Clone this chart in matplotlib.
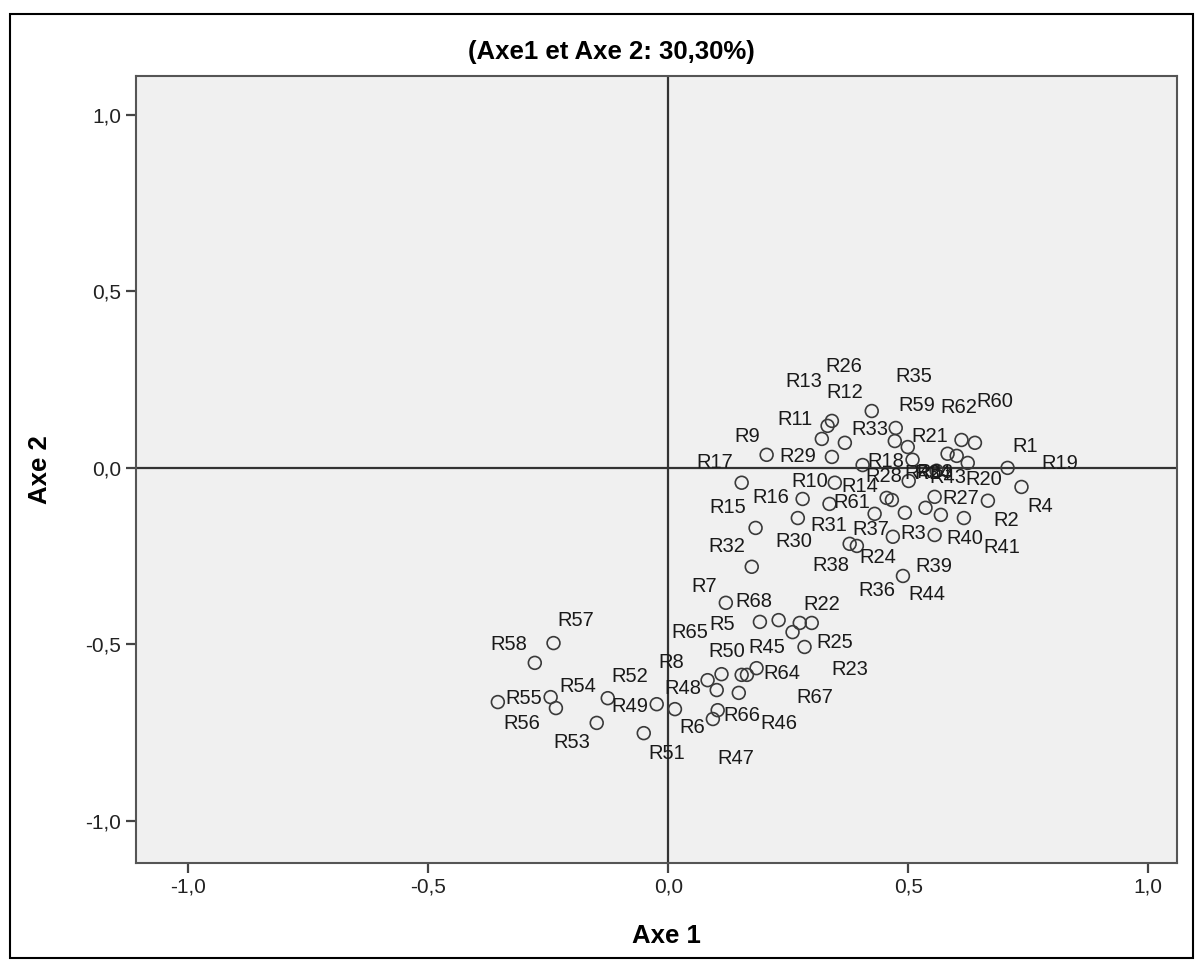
import matplotlib
matplotlib.use("Agg")
from matplotlib import pyplot as plt
from matplotlib.patches import Rectangle

# individus et coordonnees sur les deux premiers axes
noms = ["R26", "R12", "R13", "R11", "R33", "R9", "R29", "R18", "R35", "R59",
        "R21", "R28", "R62", "R60", "R34", "R43", "R20", "R1", "R19", "R42",
        "R63", "R17", "R10", "R16", "R61", "R14", "R37", "R31", "R30", "R15",
        "R38", "R24", "R3", "R32", "R44", "R27", "R4", "R36", "R40", "R41",
        "R2", "R39", "R7", "R5", "R68", "R22", "R25", "R45", "R23", "R64",
        "R50", "R67", "R65", "R8", "R48", "R46", "R6", "R66", "R47", "R57",
        "R58", "R56", "R54", "R55", "R52", "R49", "R53", "R51"]
axe1 = [0.424, 0.341, 0.332, 0.320, 0.368, 0.205, 0.341, 0.405, 0.474, 0.472,
        0.499, 0.509, 0.611, 0.639, 0.582, 0.601, 0.624, 0.707, 0.736, 0.501,
        0.559, 0.153, 0.347, 0.280, 0.336, 0.455, 0.466, 0.430, 0.270, 0.182,
        0.378, 0.393, 0.468, 0.174, 0.489, 0.555, 0.666, 0.493, 0.536, 0.568,
        0.616, 0.555, 0.120, 0.191, 0.230, 0.274, 0.299, 0.259, 0.284, 0.184,
        0.153, 0.164, 0.111, 0.082, 0.101, 0.147, 0.014, 0.103, 0.093, -0.239,
        -0.278, -0.355, -0.245, -0.234, -0.126, -0.024, -0.149, -0.051]
axe2 = [0.161, 0.133, 0.119, 0.082, 0.071, 0.037, 0.031, 0.008, 0.113, 0.076,
        0.059, 0.023, 0.079, 0.071, 0.040, 0.034, 0.014, 0.000, -0.054, -0.037,
        -0.008, -0.042, -0.042, -0.088, -0.102, -0.085, -0.091, -0.130, -0.142, -0.170,
        -0.215, -0.221, -0.195, -0.280, -0.306, -0.082, -0.093, -0.127, -0.113, -0.133,
        -0.142, -0.190, -0.382, -0.436, -0.431, -0.439, -0.439, -0.465, -0.507, -0.567,
        -0.586, -0.586, -0.584, -0.601, -0.629, -0.637, -0.683, -0.686, -0.711, -0.496,
        -0.552, -0.663, -0.649, -0.680, -0.652, -0.669, -0.722, -0.751]

# decalage des etiquettes (pixels)
dx = [-28, 13, -24, -27, 25, -19, -34, 23, 18, 22,
      22, -29, -3, 20, -15, -9, 16, 18, 38, 14,
      -2, -27, -25, -32, 22, -27, -21, -46, -4, -28,
      -19, 21, 20, -25, 24, 26, 52, -28, 39, 61,
      42, -1, -22, -38, -25, 22, 23, -26, 45, 25,
      -15, 68, -32, -36, -34, 40, 17, 24, 23, 22,
      -26, 24, 27, -32, 22, -27, -25, 23]
dy = [45, 28, 44, 19, 13, 18, 0, 4, 51, 36,
      11, -17, 32, 41, -20, -22, -17, 21, 23, 7,
      -2, 20, 1, 1, 1, 11, -29, -12, -23, 20,
      -22, -12, 3, 20, -19, -2, -6, -78, -31, -33,
      -2, -32, 16, -3, 19, 18, -20, -15, -23, -5,
      23, -23, 42, 18, 2, -31, -18, -5, -39, 23,
      18, -21, 11, 10, 22, -2, -20, -20]

graduations = [-1.0, -0.5, 0.0, 0.5, 1.0]
titre = "(Axe1 et Axe 2: 30,30%)"

plt.rcParams['font.family'] = ['Liberation Sans', 'DejaVu Sans']

fig = plt.figure(figsize=(12.03, 9.72), dpi=100)
ax = fig.add_axes([0.113, 0.112, 0.865, 0.810])
ax.set_facecolor('#f0f0f0')

ax.axhline(0, color='#333333', lw=1.6, zorder=1)
ax.axvline(0, color='#333333', lw=1.6, zorder=1)

ax.scatter(axe1, axe2, s=85, facecolors='none', edgecolors='#3a3a3a',
           linewidths=1.2, zorder=3)
for n, x, y, ox, oy in zip(noms, axe1, axe2, dx, dy):
    ax.annotate(n, (x, y), xytext=(ox, oy), textcoords='offset pixels',
                ha='center', va='center', fontsize=14.5, color='#1a1a1a', zorder=4)

ax.set_xlim(-1.109, 1.059)
ax.set_ylim(-1.119, 1.110)
ax.set_xticks(graduations)
ax.set_yticks(graduations)
ax.set_xticklabels([f"{t:.1f}".replace('.', ',') for t in graduations])
ax.set_yticklabels([f"{t:.1f}".replace('.', ',') for t in graduations])
ax.tick_params(direction='out', length=7.5, width=1.6, color='#444444', pad=3,
               labelsize=15, labelcolor='#222222')
for s in ax.spines.values():
    s.set_color('#555555')
    s.set_linewidth(1.5)

ax.set_xlabel("Axe 1", fontsize=18.5, fontweight='bold', labelpad=20, x=0.51)
ax.set_ylabel("Axe 2", fontsize=18.5, fontweight='bold', labelpad=24)
ax.set_title(titre, fontsize=18.5, fontweight='bold', pad=12, x=0.457)

# cadre exterieur
fig.patches.append(Rectangle((10 / 1203, 1 - 958 / 972), 1183 / 1203, 944 / 972,
                             transform=fig.transFigure, fill=False,
                             edgecolor='black', lw=1.5))

fig.savefig("out.png", dpi=100)
